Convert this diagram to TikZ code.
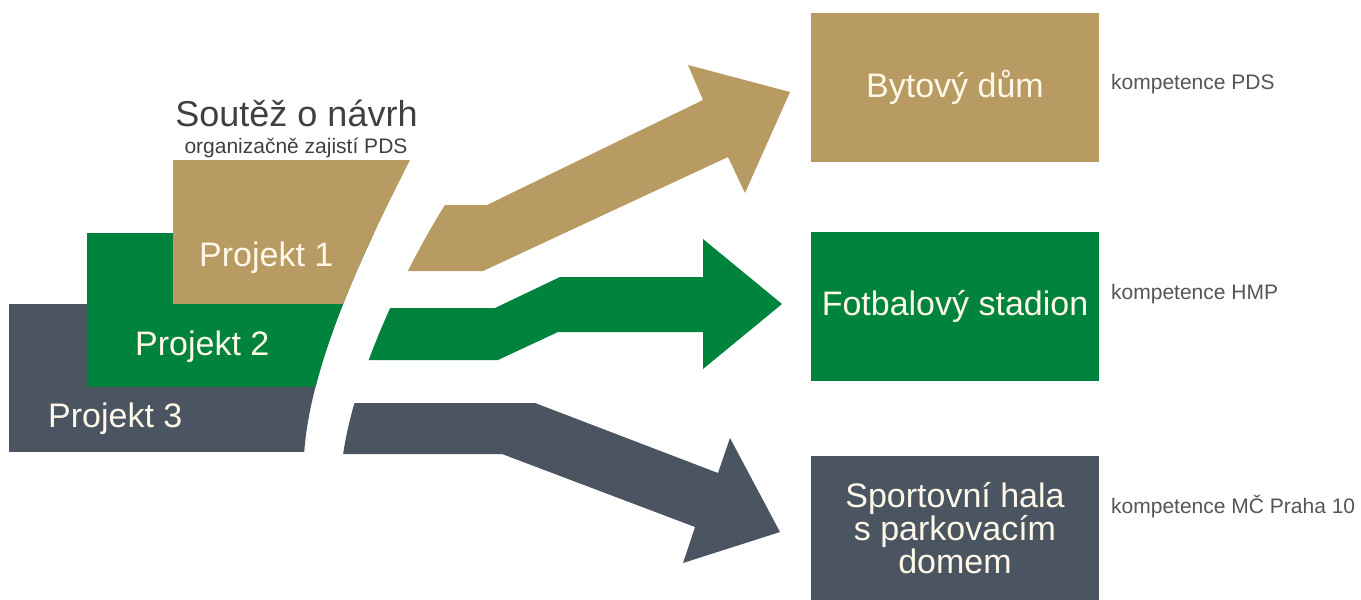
\documentclass[tikz,border=0pt]{standalone}
\usepackage{fontspec}
\setmainfont{Liberation Sans}
\definecolor{tanc}{RGB}{184,155,98}
\definecolor{greenc}{RGB}{0,132,61}
\definecolor{grayc}{RGB}{75,85,98}
\definecolor{cream}{RGB}{255,248,232}
\definecolor{darktext}{RGB}{64,64,64}
\definecolor{lighttext}{RGB}{85,85,85}
\begin{document}
\begin{tikzpicture}[x=1pt,y=-1pt,
  box/.style={inner sep=0pt, minimum width=288pt, text=cream, align=center, font=\fontsize{34}{31}\selectfont},
  proj/.style={inner sep=0pt, anchor=base west, text=cream, font=\fontsize{34}{40}\selectfont},
  note/.style={inner sep=0pt, anchor=base west, text=lighttext, font=\fontsize{21}{25}\selectfont}]
\useasboundingbox (0,0) rectangle (1361,600);
\fill[white] (0,0) rectangle (1361,600);

% left stacked blocks, cut by the curved band
\begin{scope}
  \clip (0,160) -- (410,160) .. controls (368,243) and (310,360) .. (304,455) -- (0,455) -- cycle;
  \fill[grayc]  (9,304) rectangle (460,452);
  \fill[greenc] (87,233) rectangle (460,387);
  \fill[tanc]   (173,160) rectangle (460,304);
\end{scope}

% arrows, their tails cut by the curved band
\begin{scope}
  \clip (445,0) -- (445,205) .. controls (410,260) and (355,370) .. (343,455) -- (343,600) -- (1361,600) -- (1361,0) -- cycle;
  \fill[tanc] (380,205) -- (487,205) -- (703,100) -- (688,65) -- (790,92) -- (745,193) -- (728,157) -- (483,271) -- (360,271) -- cycle;
  \fill[greenc] (340,308) -- (495,308) -- (560,277) -- (703,277) -- (703,239) -- (782,304) -- (703,369) -- (703,332) -- (558,332) -- (498,360) -- (330,360) -- cycle;
  \fill[grayc] (320,403) -- (535,403) -- (718,473) -- (730,438) -- (780,532) -- (683,563) -- (695,527) -- (502,454) -- (320,454) -- cycle;
\end{scope}

% texts on the left
\node[inner sep=0pt, anchor=base, text=darktext, font=\fontsize{36}{40}\selectfont] (title) at (296.5,126) {Soutěž o návrh};
\node[inner sep=0pt, anchor=base, text=darktext, font=\fontsize{21}{25}\selectfont] (subtitle) at (296,153) {organizačně zajistí PDS};
\node[proj] (p1) at (199,266) {Projekt 1};
\node[proj] (p2) at (135,355) {Projekt 2};
\node[proj] (p3) at (48,427) {Projekt 3};

% target boxes
\node[box, fill=tanc, minimum height=149pt] (byt) at (955,87.5) {Bytový dům};
\node[box, fill=greenc, minimum height=149pt] (fot) at (955,306.5) {Fotbalový stadion};
\node[box, fill=grayc, minimum height=144pt] (hala) at (955,528) {Sportovní hala\\s parkovacím\\domem};

% competences
\node[note] (k1) at (1111,89) {kompetence PDS};
\node[note] (k2) at (1111,299) {kompetence HMP};
\node[note] (k3) at (1111,513) {kompetence MČ Praha 10};
\end{tikzpicture}
\end{document}
